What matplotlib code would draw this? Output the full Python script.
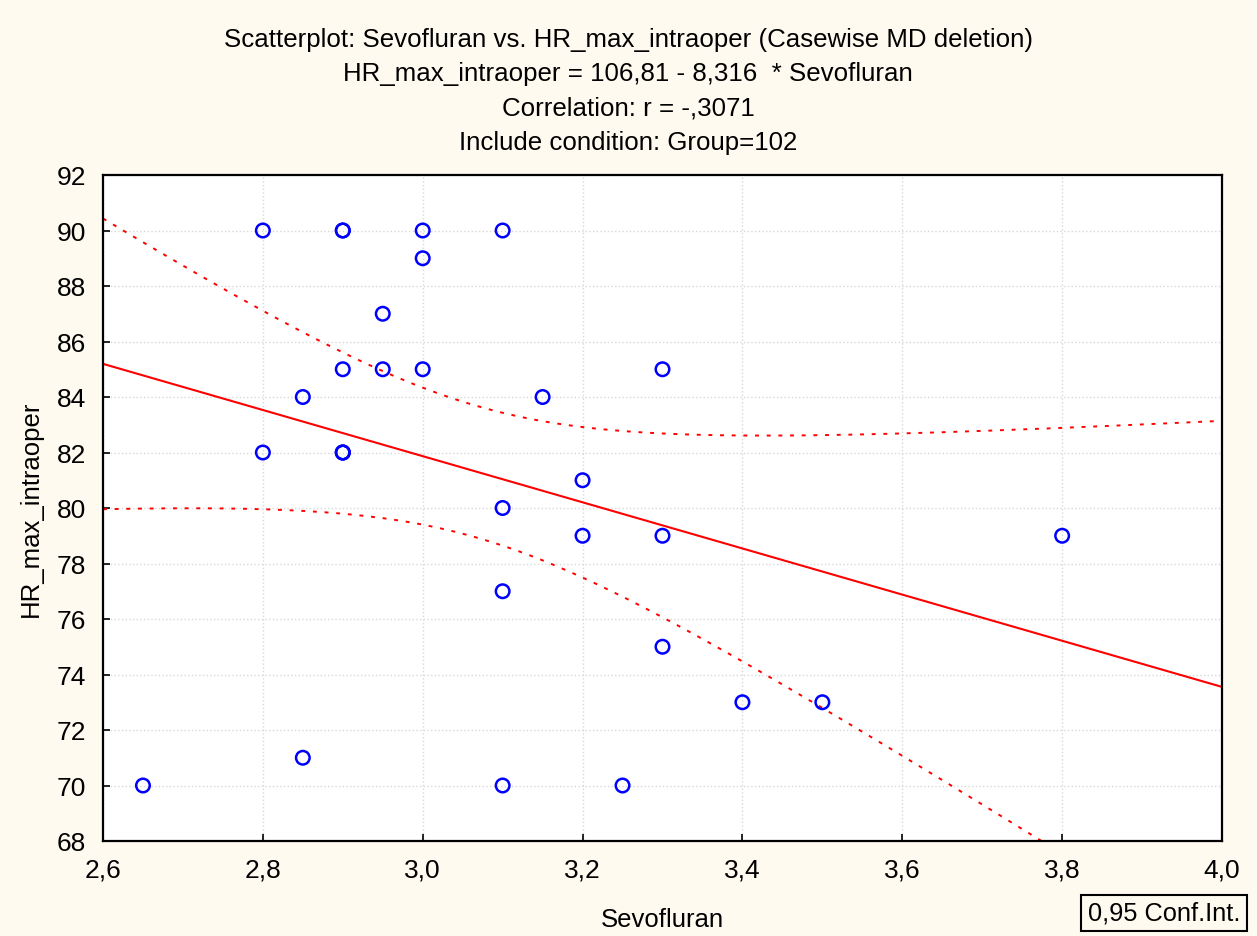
import matplotlib.pyplot as plt
import numpy as np

# === Data (repeated cases included: 2.9/90 twice, 2.9/82 three times) ===
sevo = [2.65, 2.8, 2.8, 2.85, 2.85, 2.9, 2.9, 2.9, 2.9, 2.9, 2.9, 2.95, 2.95,
        3.0, 3.0, 3.0, 3.1, 3.1, 3.1, 3.1, 3.15, 3.2, 3.2, 3.25, 3.3, 3.3, 3.3,
        3.4, 3.5, 3.8]
hr_max = [70, 90, 82, 84, 71, 90, 90, 85, 82, 82, 82, 87, 85,
          90, 89, 85, 90, 80, 77, 70, 84, 81, 79, 70, 85, 79, 75,
          73, 73, 79]
title_lines = [
    'Scatterplot: Sevofluran vs. HR_max_intraoper (Casewise MD deletion)',
    'HR_max_intraoper = 106,81 - 8,316  * Sevofluran',
    'Correlation: r = -,3071',
    'Include condition: Group=102',
]

# === Regression + 95% confidence band ===
x = np.array(sevo, dtype=float)
y = np.array(hr_max, dtype=float)
n = len(x)
slope, intercept = np.polyfit(x, y, 1)
resid = y - (intercept + slope * x)
s = np.sqrt(np.sum(resid ** 2) / (n - 2))
sxx = np.sum((x - x.mean()) ** 2)
t = 2.048  # t(0.975, df=28)

xs = np.linspace(2.6, 4.0, 300)
yfit = intercept + slope * xs
half = t * s * np.sqrt(1.0 / n + (xs - x.mean()) ** 2 / sxx)

# === Plot ===
bg = '#fffaf0'
fig = plt.figure(figsize=(12.57, 9.37), dpi=100, facecolor=bg)
ax = fig.add_axes([103 / 1257, 1 - 842 / 937, (1222 - 103) / 1257, (842 - 176) / 937])
ax.set_facecolor('white')

ax.grid(True, color='#d8d8d8', linestyle=':', linewidth=1)
ax.set_axisbelow(True)

ax.plot(xs, yfit, color='red', linewidth=1.5)
ax.plot(xs, yfit + half, color='red', linestyle=(0, (2, 4)), linewidth=1.4)
ax.plot(xs, yfit - half, color='red', linestyle=(0, (2, 4)), linewidth=1.4)
ax.scatter(x, y, s=95, facecolors='none', edgecolors='blue', linewidths=1.8, zorder=3)

ax.set_xlim(2.6, 4.0)
ax.set_ylim(68, 92)
xt = np.arange(2.6, 4.01, 0.2)
ax.set_xticks(xt)
ax.set_xticklabels([f'{v:.1f}'.replace('.', ',') for v in xt])
yt = np.arange(68, 93, 2)
ax.set_yticks(yt)
ax.set_yticklabels([str(v) for v in yt])
ax.tick_params(axis='both', direction='in', length=5, width=1.2, labelsize=19)
ax.tick_params(axis='x', pad=12)
ax.tick_params(axis='y', pad=12)
for sp in ax.spines.values():
    sp.set_linewidth(1.6)

ax.set_xlabel('Sevofluran', fontsize=18.5, family='Liberation Sans', labelpad=18)
ax.set_ylabel('HR_max_intraoper', fontsize=18.5, family='Liberation Sans', labelpad=10)
for lab in ax.get_xticklabels() + ax.get_yticklabels():
    lab.set_family('Liberation Sans')

for i, line in enumerate(title_lines):
    fig.text(628 / 1257, 1 - (40 + i * 34.3) / 937, line, ha='center', va='center',
             fontsize=18.6, family=['Liberation Sans Narrow', 'Liberation Sans'])

fig.text(1164 / 1257, 1 - 914 / 937, '0,95 Conf.Int.', ha='center', va='center',
         fontsize=18.3, family='Liberation Sans',
         bbox=dict(boxstyle='square,pad=0.25', facecolor=bg, edgecolor='black', linewidth=1.5))

fig.savefig('out.png', dpi=100, facecolor=bg)
